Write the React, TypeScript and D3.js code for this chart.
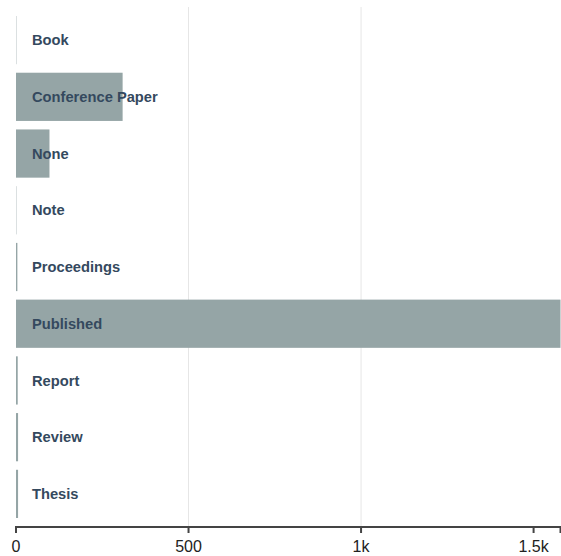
import React from "react";
import * as d3 from "d3";

const categories = ["Book", "Conference Paper", "None", "Note", "Proceedings", "Published", "Report", "Review", "Thesis"];
const counts = [1, 309, 97, 1, 4, 1578, 5, 6, 6];
const tickValues = [0, 500, 1000, 1500];
const gridValues = [500, 1000];

const W = 561;
const H = 556;

export default function App() {
  const x = d3.scaleLinear().domain([0, d3.max(counts) as number]).range([16, 560.5]);
  const y = d3.scaleBand<string>().domain(categories).range([16, 518]).paddingInner(0.15).paddingOuter(0);
  const axisY = 527;
  const fmt = d3.format("~s");
  const [r0, r1] = x.range();
  return (
    <svg width={W} height={H} style={{ position: "absolute", left: 0, top: 0, background: "#fff" }}
      fontFamily="'Liberation Sans', Arial, Helvetica, sans-serif">
      {gridValues.map((v) => (
        <line key={v} x1={x(v)} x2={x(v)} y1={7} y2={axisY} stroke="#e6e6e6" strokeWidth={1} />
      ))}
      {categories.map((c, i) => (
        <rect key={c} x={x(0)} y={y(c)} width={Math.max(0, x(counts[i]) - x(0))} height={y.bandwidth()} fill="#95a5a6" />
      ))}
      {categories.map((c) => (
        <text key={c} x={32} y={(y(c) as number) + y.bandwidth() / 2} dy="0.35em" fontSize={14.7} fontWeight="bold" fill="#34495e">
          {c}
        </text>
      ))}
      <g>
        <path d={`M${r0},${axisY + 6}V${axisY}H${r1}V${axisY + 6}`} fill="none" stroke="#444" strokeWidth={2} />
        {tickValues.map((v) => (
          <g key={v} transform={`translate(${x(v)},${axisY})`}>
            <line y2={6} stroke="#444" strokeWidth={2} />
            <text y={25} textAnchor="middle" fontSize={16} fill="#222">
              {fmt(v)}
            </text>
          </g>
        ))}
      </g>
    </svg>
  );
}
